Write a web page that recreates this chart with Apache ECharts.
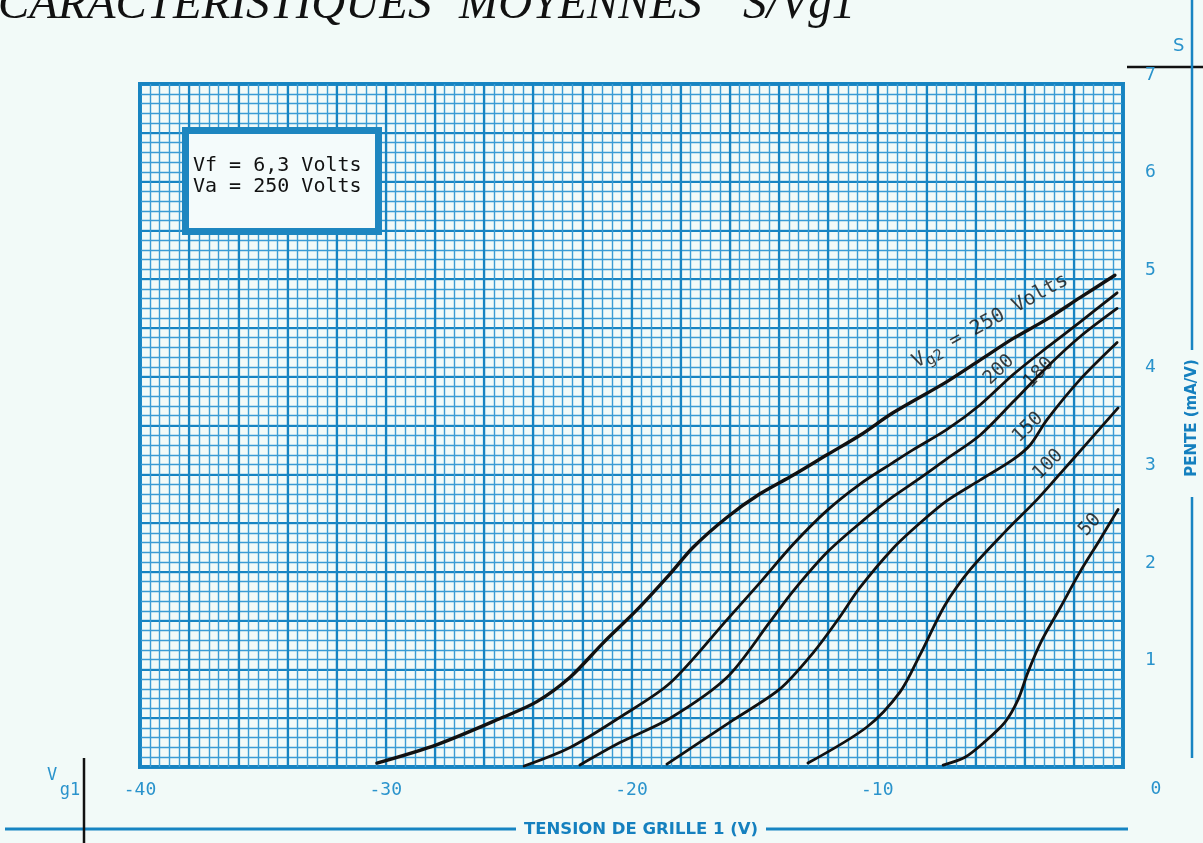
<!DOCTYPE html>
<html>
<head>
<meta charset="utf-8">
<script src="https://cdn.jsdelivr.net/npm/echarts@6/dist/echarts.min.js"></script>
<style>
  html, body { margin: 0; padding: 0; background: #f2faf8; }
  #chart { width: 1203px; height: 843px; }
</style>
</head>
<body>
<div id="chart"></div>
<script>
// Mutual conductance S (mA/V) versus control-grid voltage Vg1 (V),
// one curve per screen-grid voltage Vg2.
const curve250 = [[-30.36,0.04],[-27.91,0.23],[-25.23,0.51],[-23.85,0.67],[-22.50,0.92],[-21.16,1.27],[-19.78,1.61],[-18.43,1.98],[-17.50,2.25],[-16.11,2.56],[-14.77,2.80],[-13.43,2.99],[-12.04,3.20],[-10.70,3.40],[-9.36,3.63],[-7.16,3.95],[-5.82,4.17],[-4.48,4.39],[-3.09,4.59],[-1.75,4.81],[-0.33,5.04]];
const curve200 = [[-24.37,0.01],[-22.50,0.20],[-20.47,0.51],[-18.43,0.86],[-16.11,1.51],[-14.77,1.89],[-13.43,2.28],[-12.04,2.63],[-10.70,2.90],[-9.36,3.12],[-8.55,3.25],[-7.16,3.46],[-5.82,3.71],[-4.48,4.02],[-3.09,4.30],[-1.75,4.56],[-0.24,4.86]];
const curve180 = [[-22.10,0.02],[-20.47,0.25],[-18.43,0.50],[-16.11,0.92],[-14.36,1.49],[-13.43,1.80],[-12.04,2.20],[-10.70,2.50],[-9.36,2.77],[-8.26,2.96],[-7.16,3.16],[-5.82,3.40],[-4.48,3.74],[-3.09,4.10],[-1.75,4.41],[-0.24,4.70]];
const curve150 = [[-18.56,0.03],[-15.87,0.48],[-13.96,0.80],[-12.61,1.17],[-11.60,1.51],[-10.70,1.84],[-9.36,2.24],[-8.26,2.50],[-7.16,2.73],[-5.82,2.94],[-4.48,3.15],[-3.78,3.30],[-3.09,3.56],[-1.75,3.97],[-0.24,4.35]];
const curve100 = [[-12.82,0.04],[-10.42,0.41],[-9.07,0.77],[-8.26,1.15],[-7.24,1.66],[-6.23,2.02],[-4.80,2.41],[-3.50,2.74],[-2.44,3.04],[-1.46,3.32],[-0.20,3.68]];
const curve50  = [[-7.32,0.02],[-6.43,0.10],[-5.62,0.26],[-4.80,0.46],[-4.27,0.69],[-3.87,0.97],[-3.30,1.30],[-2.56,1.63],[-1.75,2.00],[-0.94,2.33],[-0.20,2.64]];

const curves = [curve250, curve200, curve180, curve150, curve100, curve50];
const curveNames = ['Vg2 = 250 Volts', '200', '180', '150', '100', '50'];
const xTickLabels = [-40, -30, -20, -10];
const yTickLabels = [1, 2, 3, 4, 5, 6, 7];

const BLUE = '#1784c2';
const BLUE_FINE = '#3a9bd4';
const BLUE_TEXT = '#2a93cc';
const INK = '#111111';
const MONO = '"DejaVu Sans Mono", "Liberation Mono", monospace';

// Where each curve name is written along its curve (data units) and its slant
const nameSpots = [
  { at: [-5.40, 4.57], rotate: 29 },
  { at: [-5.05, 4.07], rotate: 44 },
  { at: [-3.42, 4.04], rotate: 47 },
  { at: [-3.87, 3.48], rotate: 44 },
  { at: [-3.05, 3.10], rotate: 45 },
  { at: [-1.34, 2.48], rotate: 48 }
];

const lineSeries = curves.map((pts, i) => ({
  type: 'line',
  name: curveNames[i],
  xAxisIndex: 1,
  yAxisIndex: 1,
  data: pts,
  smooth: 0.3,
  symbol: 'none',
  lineStyle: { color: INK, width: i === 0 ? 3.4 : 2.8, cap: 'round', join: 'round' },
  z: 5
}));

const nameSeries = {
  type: 'scatter',
  xAxisIndex: 1,
  yAxisIndex: 1,
  symbolSize: 0,
  silent: true,
  z: 6,
  data: nameSpots.map((s, i) => ({
    value: s.at,
    label: {
      show: true,
      position: 'inside',
      rotate: s.rotate,
      formatter: i === 0 ? '{a|V}{s|g2}{a| = 250 Volts}' : curveNames[i],
      color: INK,
      fontFamily: MONO,
      fontSize: 19,
      rich: {
        a: { fontFamily: MONO, fontSize: 20, lineHeight: 26, color: INK, verticalAlign: 'middle' },
        s: { fontFamily: MONO, fontSize: 15, lineHeight: 15, color: INK, verticalAlign: 'bottom' }
      }
    }
  }))
};

// Graph paper: a fine ruling (0.4 V x 0.1 mA/V) under a heavier one (2 V x 0.5 mA/V)
const fineAxisCommon = {
  type: 'value',
  axisLine: { show: false }, axisTick: { show: false }, axisLabel: { show: false },
  splitLine: { show: true, lineStyle: { color: BLUE_FINE, width: 1.4 } }
};
const majorAxisCommon = {
  type: 'value',
  axisLine: { show: false }, axisTick: { show: false },
  splitLine: { show: true, lineStyle: { color: BLUE, width: 2.2 } }
};

const chart = echarts.init(document.getElementById('chart'), null, { renderer: 'canvas' });

chart.setOption({
  animation: false,
  backgroundColor: '#f2faf8',
  grid: {
    left: 140, top: 84, width: 983, height: 683,
    show: true, borderWidth: 4, borderColor: '#1a84c0', backgroundColor: 'transparent'
  },
  xAxis: [
    Object.assign({}, fineAxisCommon, { min: -40, max: 0, interval: 0.4, position: 'bottom' }),
    Object.assign({}, majorAxisCommon, {
      min: -40, max: 0, interval: 2, position: 'bottom',
      axisLabel: {
        margin: 14, color: BLUE_TEXT, fontFamily: MONO, fontSize: 18,
        showMinLabel: true, showMaxLabel: true,
        formatter: v => xTickLabels.includes(v) ? String(v) : ''
      }
    })
  ],
  yAxis: [
    Object.assign({}, fineAxisCommon, { min: 0, max: 7, interval: 0.1, position: 'right' }),
    Object.assign({}, majorAxisCommon, {
      min: 0, max: 7, interval: 0.5, position: 'right',
      axisLabel: {
        margin: 22, color: BLUE_TEXT, fontFamily: MONO, fontSize: 18,
        verticalAlign: 'bottom',
        formatter: v => yTickLabels.includes(v) ? String(v) : ''
      }
    })
  ],
  series: lineSeries.concat([nameSeries]),
  graphic: [
    // Title
    { type: 'text', left: -2, top: -18, style: { text: 'CARACTERISTIQUES', font: 'italic 47px "Liberation Serif", serif', fill: INK } },
    { type: 'text', left: 459, top: -18, style: { text: 'MOYENNES', font: 'italic 47px "Liberation Serif", serif', fill: INK } },
    { type: 'text', left: 743, top: -18, style: { text: 'S/Vg1', font: 'italic 47px "Liberation Serif", serif', fill: INK } },

    // Operating-conditions box
    { type: 'rect', shape: { x: 185.5, y: 130.5, width: 193, height: 101 },
      style: { fill: '#f4fbfb', stroke: '#1d86c0', lineWidth: 7 }, z: 10 },
    { type: 'text', x: 193, y: 156, z: 11, style: { text: 'Vf = 6,3 Volts', font: '20px ' + MONO, fill: INK } },
    { type: 'text', x: 193, y: 177, z: 11, style: { text: 'Va = 250 Volts', font: '20px ' + MONO, fill: INK } },

    // Right-hand scale title
    { type: 'text', x: 1173, y: 37, style: { text: 'S', font: '18px "DejaVu Sans", sans-serif', fill: BLUE_TEXT } },
    { type: 'line', shape: { x1: 1127, y1: 67, x2: 1203, y2: 67 }, style: { stroke: INK, lineWidth: 2.5 } },
    { type: 'line', shape: { x1: 1192, y1: 0, x2: 1192, y2: 350 }, style: { stroke: BLUE, lineWidth: 2.5 } },
    { type: 'line', shape: { x1: 1192, y1: 497, x2: 1192, y2: 758 }, style: { stroke: BLUE, lineWidth: 2.5 } },
    { type: 'text', x: 1192, y: 418, rotation: Math.PI / 2,
      style: { text: 'PENTE (mA/V)', font: 'bold 15px "DejaVu Sans", sans-serif', fill: '#1580bf', align: 'center', verticalAlign: 'middle' } },
    { type: 'text', x: 1156, y: 789, style: { text: '0', font: '18px ' + MONO, fill: BLUE_TEXT, align: 'center', verticalAlign: 'middle' } },

    // Bottom scale title
    { type: 'line', shape: { x1: 5, y1: 829, x2: 516, y2: 829 }, style: { stroke: BLUE, lineWidth: 3 } },
    { type: 'line', shape: { x1: 766, y1: 829, x2: 1128, y2: 829 }, style: { stroke: BLUE, lineWidth: 3 } },
    { type: 'text', x: 641, y: 830, style: { text: 'TENSION DE GRILLE 1 (V)', font: 'bold 16.5px "DejaVu Sans", sans-serif', fill: '#1580bf', align: 'center', verticalAlign: 'middle' } },
    { type: 'line', shape: { x1: 84, y1: 758, x2: 84, y2: 843 }, style: { stroke: INK, lineWidth: 2.5 } },
    { type: 'text', x: 52, y: 776, style: { text: 'V', font: '17px ' + MONO, fill: BLUE_TEXT, align: 'center', verticalAlign: 'middle' } },
    { type: 'text', x: 70, y: 791, style: { text: 'g1', font: '17px ' + MONO, fill: BLUE_TEXT, align: 'center', verticalAlign: 'middle' } }
  ]
});
</script>
</body>
</html>
